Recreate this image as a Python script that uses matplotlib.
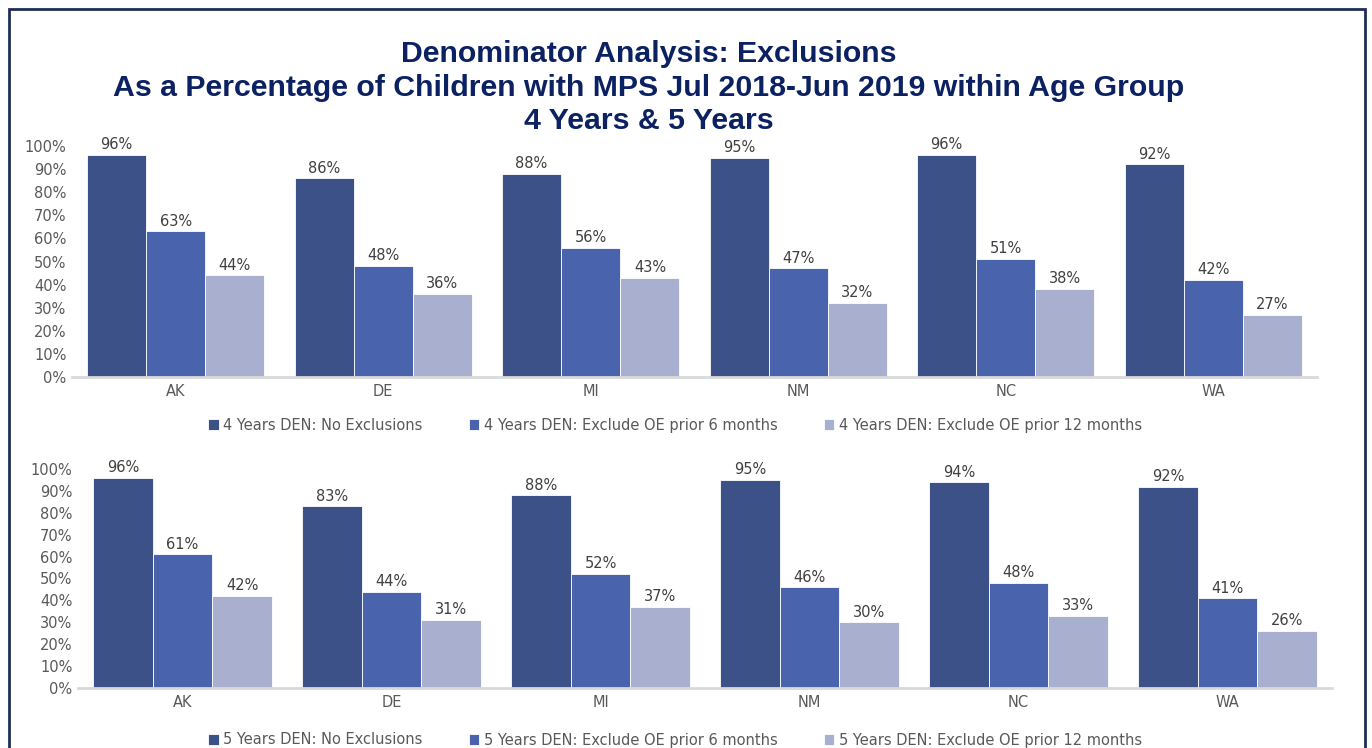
import numpy as np
import matplotlib.pyplot as plt
from matplotlib.patches import Rectangle

plt.rcParams['font.family'] = ['DejaVu Sans']

states = ['AK', 'DE', 'MI', 'NM', 'NC', 'WA']

# 4 year olds
four_no_excl = [96, 86, 88, 95, 96, 92]
four_excl_6m = [63, 48, 56, 47, 51, 42]
four_excl_12m = [44, 36, 43, 32, 38, 27]

# 5 year olds
five_no_excl = [96, 83, 88, 95, 94, 92]
five_excl_6m = [61, 44, 52, 46, 48, 41]
five_excl_12m = [42, 31, 37, 30, 33, 26]

labels_4 = ['4 Years DEN: No Exclusions',
            '4 Years DEN: Exclude OE prior 6 months',
            '4 Years DEN: Exclude OE prior 12 months']
labels_5 = ['5 Years DEN: No Exclusions',
            '5 Years DEN: Exclude OE prior 6 months',
            '5 Years DEN: Exclude OE prior 12 months']

title_lines = ['Denominator Analysis: Exclusions',
               'As a Percentage of Children with MPS Jul 2018-Jun 2019 within Age Group',
               '4 Years & 5 Years']

colors = ['#3d5189', '#4964ad', '#a9b0cf']
gray = '#595959'

W, H = 1372, 748
fig = plt.figure(figsize=(W / 100, H / 100), dpi=100)

# outer frame
fig.add_artist(Rectangle((9 / W, -0.05), (1365 - 9) / W, 1.05 - 9 / H,
                         transform=fig.transFigure, fill=False,
                         edgecolor='#1f2f4f', linewidth=2))

for line, yp in zip(title_lines, [54, 88, 121]):
    fig.text(649 / W, 1 - yp / H, line, ha='center', va='center',
             fontsize=21.8, fontweight='bold', color='#0b2161',
             family='Liberation Sans')


def draw_panel(rect, series, labels, legend_y):
    ax = fig.add_axes(rect)
    x = np.arange(len(states))
    w = 0.285
    for i, (vals, lab) in enumerate(zip(series, labels)):
        pos = x + (i - 1) * w
        bars = ax.bar(pos, np.array(vals) / 100, width=w, color=colors[i],
                      label=lab, edgecolor='white', linewidth=0.6)
        for b, v in zip(bars, vals):
            ax.text(b.get_x() + b.get_width() / 2, v / 100 + 0.012, f'{v}%',
                    ha='center', va='bottom', fontsize=10.5, color='#404040')
    ax.set_xlim(-0.5, len(states) - 0.5)
    ax.set_ylim(0, 1.0)
    ax.set_yticks(np.arange(0, 1.01, 0.1))
    ax.set_yticklabels([f'{int(round(t * 100))}%' for t in np.arange(0, 1.01, 0.1)],
                       fontsize=10.5, color=gray)
    ax.set_xticks(x)
    ax.set_xticklabels(states, fontsize=10.5, color=gray)
    ax.tick_params(length=0, pad=5)
    ax.tick_params(axis='y', pad=4)
    for s in ['top', 'right', 'left']:
        ax.spines[s].set_visible(False)
    ax.spines['bottom'].set_color('#d9d9d9')
    ax.spines['bottom'].set_linewidth(2)
    ax.patch.set_alpha(0)
    fig.legend(*ax.get_legend_handles_labels(), loc='center',
               bbox_to_anchor=(0.492, legend_y), ncol=3, frameon=False,
               fontsize=10.5, labelcolor=gray, handlelength=0.7,
               handleheight=0.7, handletextpad=0.3, columnspacing=3.2)
    return ax


draw_panel([72 / W, 1 - 377 / H, 1245 / W, 231 / H],
           [four_no_excl, four_excl_6m, four_excl_12m], labels_4, 1 - 425 / H)
draw_panel([78 / W, 1 - 688 / H, 1254 / W, 219 / H],
           [five_no_excl, five_excl_6m, five_excl_12m], labels_5, 1 - 740 / H)

fig.savefig('out.png', dpi=100)
